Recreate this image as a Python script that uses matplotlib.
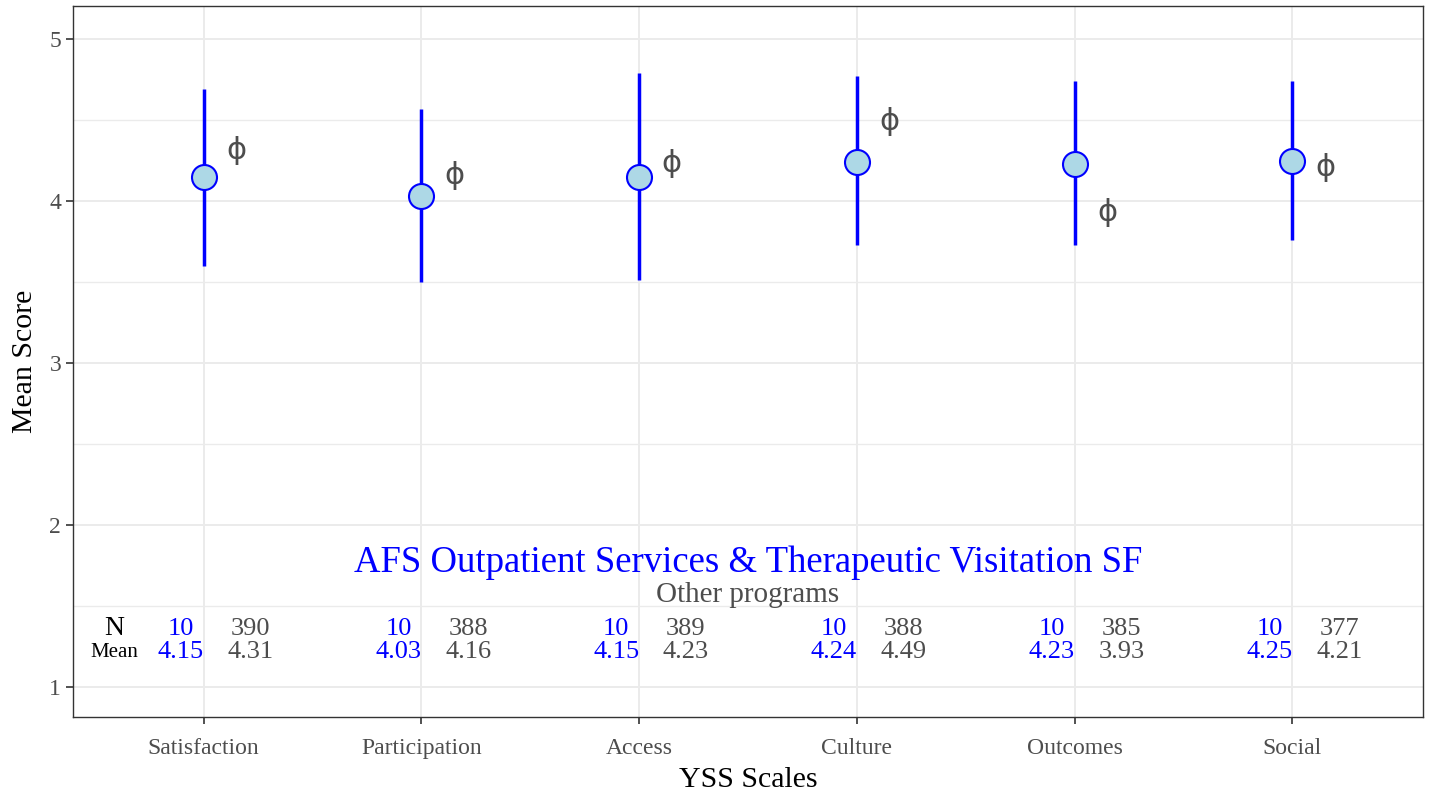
import numpy as np
import matplotlib.pyplot as plt

# Data
scales = ['Satisfaction', 'Participation', 'Access', 'Culture', 'Outcomes', 'Social']
prog_mean = [4.15, 4.03, 4.15, 4.24, 4.23, 4.25]
prog_low = [3.60, 3.50, 3.51, 3.73, 3.73, 3.76]
prog_high = [4.69, 4.57, 4.79, 4.77, 4.74, 4.74]
prog_n = [10, 10, 10, 10, 10, 10]
other_mean = [4.31, 4.16, 4.23, 4.49, 3.93, 4.21]
other_n = [390, 388, 389, 388, 385, 377]

program_name = 'AFS Outpatient Services & Therapeutic Visitation SF'

plt.rcParams['font.family'] = ['Liberation Serif', 'DejaVu Serif']

fig = plt.figure(figsize=(14.29, 8.01), dpi=100)
ax = fig.add_axes([73 / 1429, 1 - 717 / 801, 1350 / 1429, 711 / 801])

x = np.arange(1, len(scales) + 1)
grey = '#4D4D4D'

# grid (theme_bw look)
for v in np.arange(1, 5.01, 0.5):
    ax.axhline(v, color='#EBEBEB', lw=1.4 if v % 1 == 0 else 1.0, zorder=0)
for xi in x:
    ax.axvline(xi, color='#EBEBEB', lw=1.4, zorder=0)

# program error bars and points
ax.vlines(x, prog_low, prog_high, color='blue', lw=2.5, zorder=2)
ax.plot(x, prog_mean, 'o', ms=18, mfc='#ADD8E6', mec='blue', mew=1.5, zorder=3)

# other programs: phi symbols
for xi, m in zip(x, other_mean):
    ax.text(xi + 0.15, m, '\u03d5', color=grey, fontsize=22, family='DejaVu Sans',
            ha='center', va='center', zorder=3)

# annotations
ax.text(3.5, 1.77, program_name, color='blue', fontsize=26.5, ha='center', va='center')
ax.text(3.5, 1.57, 'Other programs', color=grey, fontsize=21, ha='center', va='center')
ax.text(0.59, 1.36, 'N', color='black', fontsize=20, ha='center', va='center')
ax.text(0.59, 1.215, 'Mean', color='black', fontsize=15, ha='center', va='center')
for xi, n, m, on, om in zip(x, prog_n, prog_mean, other_n, other_mean):
    ax.text(xi - 0.105, 1.36, f'{n}', color='blue', fontsize=19, ha='center', va='center')
    ax.text(xi - 0.105, 1.215, f'{m:.2f}', color='blue', fontsize=19, ha='center', va='center')
    ax.text(xi + 0.215, 1.36, f'{on}', color=grey, fontsize=19, ha='center', va='center')
    ax.text(xi + 0.215, 1.215, f'{om:.2f}', color=grey, fontsize=19, ha='center', va='center')

ax.set_xlim(0.4, 6.6)
ax.set_ylim(0.815, 5.204)
ax.set_xticks(x)
ax.set_xticklabels(scales)
ax.set_yticks([1, 2, 3, 4, 5])
ax.tick_params(axis='both', colors='#333333', labelcolor=grey, labelsize=17,
               length=5, width=1.2, direction='out')
ax.tick_params(axis='x', pad=10)
for s in ax.spines.values():
    s.set_color('#333333')
    s.set_linewidth(1.0)

ax.set_xlabel('YSS Scales', fontsize=21.5, labelpad=6)
ax.set_ylabel('Mean Score', fontsize=21.5, labelpad=8)

fig.savefig('out.png', dpi=100)
